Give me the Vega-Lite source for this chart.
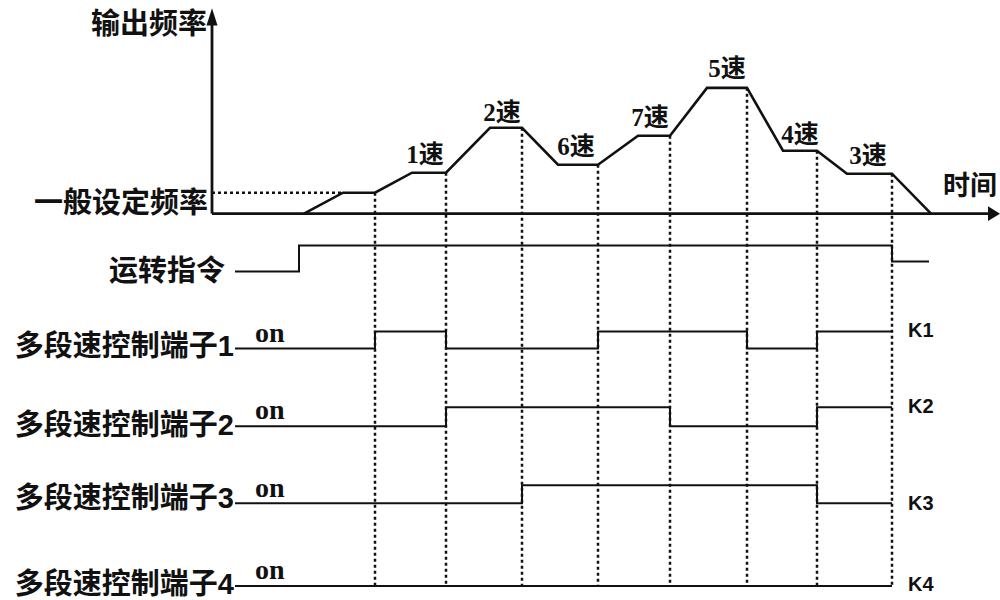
{
  "$schema": "https://vega.github.io/schema/vega-lite/v6.json",
  "width": 1000,
  "height": 600,
  "autosize": {"type": "fit", "contains": "padding"},
  "padding": 0,
  "background": "white",
  "config": {"view": {"stroke": null}},
  "datasets": {
    "axes": [
      {"t": 212, "t2": 212, "v": 214, "v2": 22},
      {"t": 212, "t2": 990, "v": 214, "v2": 214}
    ],
    "arrows": [
      {"t": 212, "v": 17, "dir": "up"},
      {"t": 994, "v": 214, "dir": "right"}
    ],
    "hdot": [{"t": 212, "t2": 343, "v": 193}],
    "vdot": [
      {"t": 375, "v": 193}, {"t": 446, "v": 173}, {"t": 522, "v": 128},
      {"t": 598, "v": 165}, {"t": 670, "v": 136}, {"t": 747, "v": 88},
      {"t": 817, "v": 151}, {"t": 892, "v": 174}
    ],
    "freq": [
      {"i": 0, "t": 304, "v": 214}, {"i": 1, "t": 343, "v": 193},
      {"i": 2, "t": 375, "v": 193}, {"i": 3, "t": 412, "v": 173},
      {"i": 4, "t": 446, "v": 173}, {"i": 5, "t": 490, "v": 128},
      {"i": 6, "t": 522, "v": 128}, {"i": 7, "t": 558, "v": 165},
      {"i": 8, "t": 598, "v": 165}, {"i": 9, "t": 638, "v": 136},
      {"i": 10, "t": 670, "v": 136}, {"i": 11, "t": 707, "v": 88},
      {"i": 12, "t": 747, "v": 88}, {"i": 13, "t": 783, "v": 151},
      {"i": 14, "t": 817, "v": 151}, {"i": 15, "t": 847, "v": 174},
      {"i": 16, "t": 892, "v": 174}, {"i": 17, "t": 931, "v": 214}
    ],
    "signals": [
      {"s": "run", "t": 235, "v": 272}, {"s": "run", "t": 299, "v": 246},
      {"s": "run", "t": 892, "v": 262}, {"s": "run", "t": 929, "v": 262},
      {"s": "K1", "t": 235, "v": 349}, {"s": "K1", "t": 375, "v": 332},
      {"s": "K1", "t": 446, "v": 349}, {"s": "K1", "t": 598, "v": 332},
      {"s": "K1", "t": 747, "v": 349}, {"s": "K1", "t": 817, "v": 332},
      {"s": "K1", "t": 892, "v": 332},
      {"s": "K2", "t": 235, "v": 427}, {"s": "K2", "t": 446, "v": 408},
      {"s": "K2", "t": 670, "v": 427}, {"s": "K2", "t": 817, "v": 408},
      {"s": "K2", "t": 892, "v": 408},
      {"s": "K3", "t": 235, "v": 504}, {"s": "K3", "t": 522, "v": 486},
      {"s": "K3", "t": 817, "v": 504}, {"s": "K3", "t": 892, "v": 504},
      {"s": "K4", "t": 235, "v": 587}, {"s": "K4", "t": 892, "v": 587}
    ],
    "leftLabels": [
      {"label": "输出频率", "t": 207, "v": 25},
      {"label": "一般设定频率", "t": 208, "v": 204},
      {"label": "运转指令", "t": 225, "v": 272},
      {"label": "多段速控制端子1", "t": 234, "v": 348},
      {"label": "多段速控制端子2", "t": 234, "v": 427},
      {"label": "多段速控制端子3", "t": 234, "v": 500},
      {"label": "多段速控制端子4", "t": 234, "v": 586}
    ],
    "speeds": [
      {"label": "1速", "t": 425, "v": 155},
      {"label": "2速", "t": 502, "v": 113},
      {"label": "6速", "t": 576, "v": 147},
      {"label": "7速", "t": 650, "v": 118},
      {"label": "5速", "t": 727, "v": 69},
      {"label": "4速", "t": 800, "v": 135},
      {"label": "3速", "t": 868, "v": 156}
    ],
    "timeLabel": [{"label": "时间", "t": 943, "v": 187}],
    "on": [
      {"label": "on", "t": 255, "v": 343},
      {"label": "on", "t": 255, "v": 420},
      {"label": "on", "t": 255, "v": 498},
      {"label": "on", "t": 255, "v": 580}
    ],
    "kLabels": [
      {"label": "K1", "t": 908, "v": 332},
      {"label": "K2", "t": 908, "v": 408},
      {"label": "K3", "t": 908, "v": 505},
      {"label": "K4", "t": 908, "v": 586}
    ]
  },
  "layer": [
    {
      "data": {"name": "hdot"},
      "mark": {"type": "rule", "color": "#111", "strokeWidth": 2.5, "strokeDash": [3, 3]},
      "encoding": {
        "x": {"field": "t", "type": "quantitative", "scale": {"domain": [0, 1000], "nice": false, "zero": false}, "axis": null},
        "x2": {"field": "t2"},
        "y": {"field": "v", "type": "quantitative", "scale": {"domain": [0, 600], "nice": false, "zero": false, "reverse": true}, "axis": null}
      }
    },
    {
      "data": {"name": "vdot"},
      "mark": {"type": "rule", "color": "#111", "strokeWidth": 2.5, "strokeDash": [3, 3]},
      "encoding": {
        "x": {"field": "t", "type": "quantitative", "axis": null},
        "y": {"field": "v", "type": "quantitative", "axis": null},
        "y2": {"datum": 586}
      }
    },
    {
      "data": {"name": "axes"},
      "mark": {"type": "rule", "color": "#111", "strokeWidth": 2.8},
      "encoding": {
        "x": {"field": "t", "type": "quantitative", "axis": null},
        "x2": {"field": "t2"},
        "y": {"field": "v", "type": "quantitative", "axis": null},
        "y2": {"field": "v2"}
      }
    },
    {
      "data": {"name": "arrows"},
      "mark": {"type": "point", "filled": true, "color": "#111", "opacity": 1, "size": 576},
      "encoding": {
        "x": {"field": "t", "type": "quantitative", "axis": null},
        "y": {"field": "v", "type": "quantitative", "axis": null},
        "shape": {"field": "dir", "type": "nominal", "legend": null,
          "scale": {"domain": ["up", "right"], "range": ["M-0.46,0.72L0,-0.72L0.46,0.72Z", "M-0.5,-0.62L0.5,0L-0.5,0.62Z"]}}
      }
    },
    {
      "data": {"name": "freq"},
      "mark": {"type": "line", "color": "#111", "strokeWidth": 2.6, "strokeJoin": "miter"},
      "encoding": {
        "x": {"field": "t", "type": "quantitative", "axis": null},
        "y": {"field": "v", "type": "quantitative", "axis": null},
        "order": {"field": "i", "type": "quantitative"}
      }
    },
    {
      "data": {"name": "signals"},
      "mark": {"type": "line", "color": "#111", "strokeWidth": 2, "interpolate": "step-after"},
      "encoding": {
        "x": {"field": "t", "type": "quantitative", "axis": null},
        "y": {"field": "v", "type": "quantitative", "axis": null},
        "detail": {"field": "s", "type": "nominal"}
      }
    },
    {
      "data": {"name": "leftLabels"},
      "mark": {"type": "text", "align": "right", "baseline": "middle", "font": "Liberation Sans, Noto Sans CJK SC", "fontWeight": "bold", "fontSize": 29, "color": "#111"},
      "encoding": {
        "x": {"field": "t", "type": "quantitative", "axis": null},
        "y": {"field": "v", "type": "quantitative", "axis": null},
        "text": {"field": "label"}
      }
    },
    {
      "data": {"name": "speeds"},
      "mark": {"type": "text", "align": "center", "baseline": "middle", "font": "Liberation Serif, Noto Sans CJK SC", "fontWeight": "bold", "fontSize": 25, "color": "#111"},
      "encoding": {
        "x": {"field": "t", "type": "quantitative", "axis": null},
        "y": {"field": "v", "type": "quantitative", "axis": null},
        "text": {"field": "label"}
      }
    },
    {
      "data": {"name": "timeLabel"},
      "mark": {"type": "text", "align": "left", "baseline": "middle", "font": "Noto Sans CJK SC", "fontWeight": "bold", "fontSize": 27, "color": "#111"},
      "encoding": {
        "x": {"field": "t", "type": "quantitative", "axis": null},
        "y": {"field": "v", "type": "quantitative", "axis": null},
        "text": {"field": "label"}
      }
    },
    {
      "data": {"name": "on"},
      "mark": {"type": "text", "align": "left", "baseline": "alphabetic", "font": "Liberation Serif", "fontWeight": "bold", "fontSize": 28, "color": "#111"},
      "encoding": {
        "x": {"field": "t", "type": "quantitative", "axis": null},
        "y": {"field": "v", "type": "quantitative", "axis": null},
        "text": {"field": "label"}
      }
    },
    {
      "data": {"name": "kLabels"},
      "mark": {"type": "text", "align": "left", "baseline": "middle", "font": "Liberation Sans", "fontWeight": "bold", "fontSize": 20, "color": "#111"},
      "encoding": {
        "x": {"field": "t", "type": "quantitative", "axis": null},
        "y": {"field": "v", "type": "quantitative", "axis": null},
        "text": {"field": "label"}
      }
    }
  ]
}
